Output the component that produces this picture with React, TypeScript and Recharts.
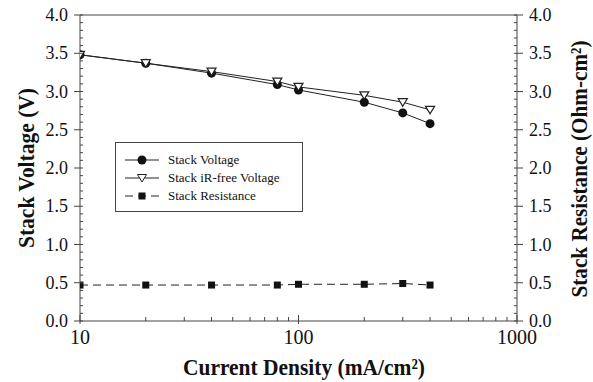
import { LineChart, Line, XAxis, YAxis, ReferenceLine, Legend } from "recharts";

const currentDensity = [10, 20, 40, 80, 100, 200, 300, 400];
const stackVoltage = [3.48, 3.37, 3.24, 3.09, 3.02, 2.86, 2.72, 2.58];
const irFreeVoltage = [3.48, 3.37, 3.26, 3.13, 3.06, 2.95, 2.86, 2.76];
const stackResistance = [0.47, 0.47, 0.47, 0.47, 0.48, 0.48, 0.49, 0.47];

const xMajorTicks = [10, 100, 1000];
const xMinorTicks = [20, 30, 40, 50, 60, 70, 80, 90, 200, 300, 400, 500, 600, 700, 800, 900];
const yMajorLabels = ["0.0", "0.5", "1.0", "1.5", "2.0", "2.5", "3.0", "3.5", "4.0"];

const legendItems = ["Stack Voltage", "Stack iR-free Voltage", "Stack Resistance"];

const data = currentDensity.map((cd, i) => ({
  cd,
  voltage: stackVoltage[i],
  irFree: irFreeVoltage[i],
  resistance: stackResistance[i],
}));

// 0.0 .. 4.0 every 0.1, majors every 0.5
const yTicks: number[] = [];
for (let i = 0; i <= 40; i++) yTicks.push(i / 10);

const FONT = "'Liberation Serif', 'Times New Roman', serif";
const AXIS = "#444";
const INK = "#222";

const XTick = (props: any) => {
  const { x, y, payload } = props;
  const major = xMajorTicks.includes(payload.value);
  return (
    <g>
      <line x1={x} x2={x} y1={major ? y + 3 : y} y2={major ? y - 6 : y - 4} stroke={AXIS} />
      {major && (
        <text x={x} y={y + 23} textAnchor="middle" fontSize={20} fontFamily={FONT} fill="#111">
          {payload.value}
        </text>
      )}
    </g>
  );
};

const makeYTick = (side: "left" | "right") => (props: any) => {
  const { x, y, payload } = props;
  const idx = Math.round(payload.value * 10);
  const major = idx % 5 === 0;
  const dir = side === "left" ? 1 : -1; // inward direction
  return (
    <g>
      <line x1={major ? x - dir * 6 : x} x2={x + dir * 3} y1={y} y2={y} stroke={AXIS} />
      {major && (
        <text
          x={side === "left" ? x - 12 : x + 12}
          y={y + 6}
          textAnchor={side === "left" ? "end" : "start"}
          fontSize={18}
          fontFamily={FONT}
          fill="#111"
        >
          {yMajorLabels[idx / 5]}
        </text>
      )}
    </g>
  );
};

const Triangle = (props: any) => {
  const { cx, cy, index } = props;
  if (cx == null || cy == null) return <g key={`t-${index}`} />;
  return (
    <path
      key={`t-${index}`}
      d={`M${cx - 4.5},${cy - 3.5} L${cx + 4.5},${cy - 3.5} L${cx},${cy + 4} Z`}
      fill="#fff"
      stroke={INK}
      strokeWidth={1.2}
    />
  );
};

const Square = (props: any) => {
  const { cx, cy, index } = props;
  if (cx == null || cy == null) return <g key={`s-${index}`} />;
  return <rect key={`s-${index}`} x={cx - 3.5} y={cy - 3.5} width={7} height={7} fill="#111" />;
};

const LegendBox = () => (
  <div
    style={{
      boxSizing: "border-box",
      width: 188,
      height: 70,
      border: `1px solid ${AXIS}`,
      background: "#fff",
      fontFamily: FONT,
      fontSize: 13,
      color: "#111",
      paddingTop: 8,
    }}
  >
    {legendItems.map((name, i) => (
      <div key={name} style={{ display: "flex", alignItems: "center", height: 18 }}>
        <svg width={52} height={18}>
          <line x1={9} x2={43} y1={9} y2={9} stroke={INK} strokeDasharray={i === 2 ? "8 5" : undefined} />
          {i === 0 && <circle cx={26} cy={9} r={4.5} fill="#111" />}
          {i === 1 && <path d="M21.5,5.5 L30.5,5.5 L26,13 Z" fill="#fff" stroke={INK} />}
          {i === 2 && <rect x={22.5} y={5.5} width={7} height={7} fill="#111" />}
        </svg>
        <span>{name}</span>
      </div>
    ))}
  </div>
);

const titleStyle = {
  fontSize: 23,
  fontWeight: "bold" as const,
  fontFamily: FONT,
  fill: "#111",
};

export default function App() {
  return (
    <div style={{ position: "absolute", left: 0, top: 0, background: "#fff" }}>
      <LineChart width={593} height={382} data={data} margin={{ top: 15, right: 36, bottom: 31, left: 40 }}>
        <XAxis
          dataKey="cd"
          type="number"
          scale="log"
          domain={[10, 1000]}
          allowDataOverflow
          ticks={[...xMajorTicks, ...xMinorTicks]}
          interval={0}
          height={30}
          tickSize={0}
          tickMargin={0}
          tickLine={false}
          tick={<XTick />}
          axisLine={{ stroke: AXIS }}
          label={{
            content: () => (
              <text
                x={304}
                y={375}
                textAnchor="middle"
                textLength={242}
                lengthAdjust="spacingAndGlyphs"
                {...titleStyle}
              >
                Current Density (mA/cm²)
              </text>
            ),
          }}
        />
        <YAxis
          yAxisId="left"
          orientation="left"
          type="number"
          domain={[0, 4]}
          ticks={yTicks}
          interval={0}
          width={40}
          tickSize={0}
          tickMargin={0}
          tickLine={false}
          tick={makeYTick("left")}
          axisLine={{ stroke: AXIS }}
          label={{
            content: () => (
              <text
                x={26}
                y={168}
                transform="rotate(-90 26 168)"
                textAnchor="middle"
                dominantBaseline="central"
                textLength={160}
                lengthAdjust="spacingAndGlyphs"
                {...titleStyle}
              >
                Stack Voltage (V)
              </text>
            ),
          }}
        />
        <YAxis
          yAxisId="right"
          orientation="right"
          type="number"
          domain={[0, 4]}
          ticks={yTicks}
          interval={0}
          width={40}
          tickSize={0}
          tickMargin={0}
          tickLine={false}
          tick={makeYTick("right")}
          axisLine={{ stroke: AXIS }}
          label={{
            content: () => (
              <text
                x={579}
                y={169}
                transform="rotate(-90 579 169)"
                textAnchor="middle"
                dominantBaseline="central"
                textLength={257}
                lengthAdjust="spacingAndGlyphs"
                {...titleStyle}
              >
                Stack Resistance (Ohm-cm²)
              </text>
            ),
          }}
        />
        <ReferenceLine yAxisId="left" y={4} stroke={AXIS} />
        <Line
          yAxisId="left"
          dataKey="voltage"
          name="Stack Voltage"
          type="linear"
          stroke={INK}
          strokeWidth={1}
          dot={{ r: 4.5, fill: "#111", stroke: "#111", strokeWidth: 0 }}
          activeDot={false}
          isAnimationActive={false}
        />
        <Line
          yAxisId="left"
          dataKey="irFree"
          name="Stack iR-free Voltage"
          type="linear"
          stroke={INK}
          strokeWidth={1}
          dot={Triangle}
          activeDot={false}
          isAnimationActive={false}
        />
        <Line
          yAxisId="right"
          dataKey="resistance"
          name="Stack Resistance"
          type="linear"
          stroke={INK}
          strokeWidth={1}
          strokeDasharray="8 5"
          dot={Square}
          activeDot={false}
          isAnimationActive={false}
        />
        <Legend
          layout="vertical"
          align="center"
          verticalAlign="middle"
          wrapperStyle={{ left: 115, top: 142, width: 188, height: 70 }}
          content={() => <LegendBox />}
        />
      </LineChart>
    </div>
  );
}
